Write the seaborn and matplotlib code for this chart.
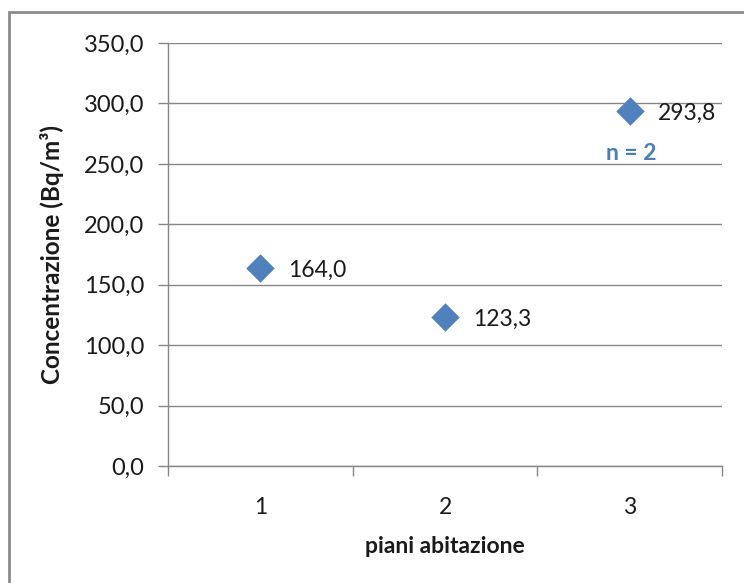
import matplotlib
matplotlib.use("Agg")
import matplotlib.pyplot as plt
import seaborn as sns
import pandas as pd
from matplotlib.patches import Rectangle

# Data
piani = ["1", "2", "3"]
concentrazione = [164.0, 123.3, 293.8]
n_label = "n = 2"

sns.set_theme(style="white")
plt.rcParams["font.family"] = ["Lato", "DejaVu Sans"]

df = pd.DataFrame({"piani": piani, "conc": concentrazione})

fig = plt.figure(figsize=(7.44, 5.83), dpi=100)
ax = fig.add_axes([168 / 744, 1 - 466 / 583, (722 - 168) / 744, (466 - 43) / 583])

grid_col = "#868686"
blue = "#4F81BD"
text_col = "#1a1a1a"
fs = 16.5

sns.scatterplot(data=df, x="piani", y="conc", marker="D", s=210,
                color=blue, linewidth=0, ax=ax, zorder=3, clip_on=False)

ax.set_xlim(-0.5, 2.5)
ax.set_ylim(0, 350)
ax.set_yticks([0, 50, 100, 150, 200, 250, 300, 350])
ax.set_yticklabels([f"{v:.1f}".replace(".", ",") for v in ax.get_yticks()])
ax.yaxis.grid(True, color=grid_col, linewidth=1)
ax.set_axisbelow(True)

ax.set_xticks([0, 1, 2])
ax.set_xticklabels(piani)
ax.set_xticks([-0.5, 0.5, 1.5, 2.5], minor=True)
ax.tick_params(axis="x", which="major", length=0, pad=22, labelsize=fs, colors=text_col)
ax.tick_params(axis="x", which="minor", length=7, width=1, color=grid_col, direction="out",
               bottom=True)
ax.tick_params(axis="y", length=7, width=1, color=grid_col, direction="out", left=True,
               pad=10, labelsize=fs + 0.5, labelcolor=text_col)

for side in ["top", "right"]:
    ax.spines[side].set_visible(False)
for side in ["left", "bottom"]:
    ax.spines[side].set_color(grid_col)
    ax.spines[side].set_linewidth(1)

ax.set_xlabel("piani abitazione", fontsize=fs, fontweight="bold", labelpad=13,
              color=text_col)
ax.set_ylabel("Concentrazione (Bq/m³)", fontsize=fs + 1, fontweight="bold", labelpad=14,
              color=text_col)

# Value labels beside each point
for i, v in enumerate(concentrazione):
    ax.annotate(f"{v:.1f}".replace(".", ","), (i, v), xytext=(20, -2),
                textcoords="offset points", ha="left", va="center",
                fontsize=fs, color=text_col)

ax.annotate(n_label, (2, concentrazione[2]), xytext=(-17, -31),
            textcoords="offset points", ha="left", va="center",
            fontsize=fs, fontweight="bold", color="#4A7EBB")

# Chart frame
fig.patches.append(Rectangle((9 / 744, -0.1), 1.2, 1 - 12 / 583 + 0.1,
                             transform=fig.transFigure, fill=False,
                             edgecolor="#8c8c8c", linewidth=2))

fig.savefig("out.png", dpi=100)
